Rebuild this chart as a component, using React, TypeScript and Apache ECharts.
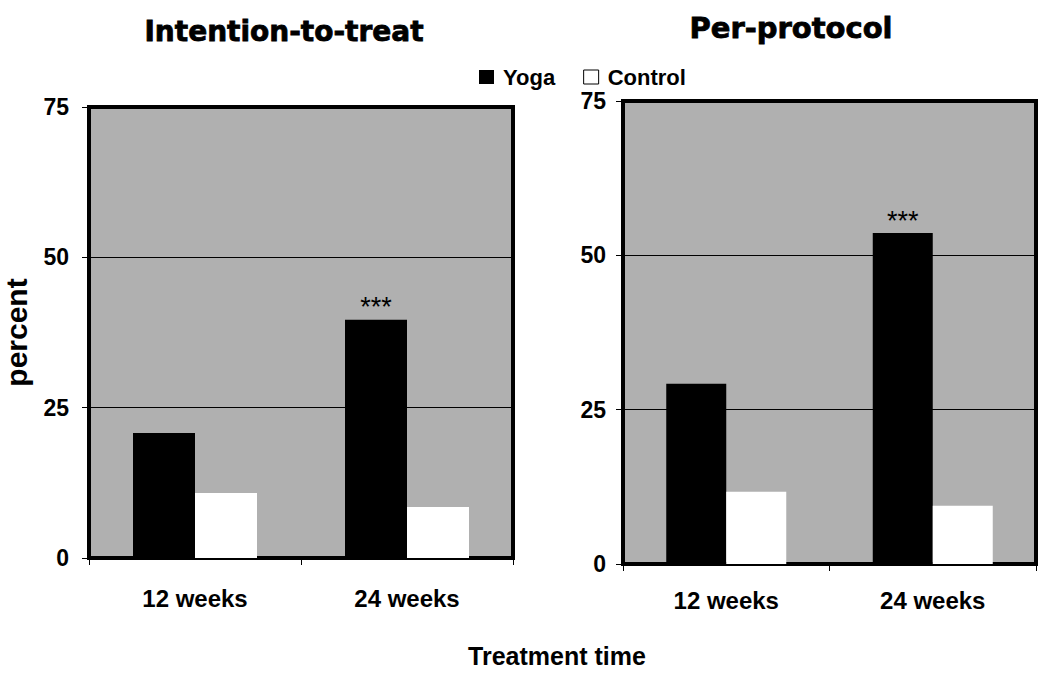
import React, { useEffect, useRef } from "react";
import * as echarts from "echarts";

const categories = ["12 weeks", "24 weeks"];
const ittYoga = [20.8, 39.6];
const ittControl = [10.8, 8.5];
const ppYoga = [29.2, 53.6];
const ppControl = [11.7, 9.45];
const ittMarks = ["", "***"];
const ppMarks = ["", "***"];
const panelTitles = ["Intention-to-treat", "Per-protocol"];
const seriesNames = ["Yoga", "Control"];
const yMin = 0;
const yMax = 75;
const yStep = 25;

const FONT = "'Liberation Sans', Arial, sans-serif";

function yogaData(values: number[], marks: string[]) {
  return values.map((v, i) =>
    marks[i]
      ? {
          value: v,
          label: {
            show: true,
            position: "top",
            distance: -1,
            formatter: marks[i],
            color: "#000",
            fontSize: 27,
            fontFamily: FONT,
          },
        }
      : v
  );
}

export default function App() {
  const ref = useRef<HTMLDivElement>(null);
  useEffect(() => {
    document.body.style.margin = "0";
    const chart = echarts.init(ref.current!, null, { renderer: "svg" });
    const grids = [
      { left: 86, top: 107, width: 427, height: 451 },
      { left: 623, top: 101, width: 413, height: 463 },
    ];
    const yAxisCommon = (gi: number, margin: number, withName: boolean) => ({
      type: "value",
      gridIndex: gi,
      min: yMin,
      max: yMax,
      interval: yStep,
      axisLine: { show: false },
      axisTick: { show: true, length: 7, lineStyle: { color: "#000", width: 1 } },
      axisLabel: {
        color: "#000",
        fontSize: 23,
        fontWeight: "bold",
        fontFamily: FONT,
        margin,
      },
      splitLine: { show: true, lineStyle: { color: "#000", width: 1 } },
      ...(withName
        ? {
            name: "percent",
            nameLocation: "middle",
            nameRotate: 90,
            nameGap: 58,
            nameTextStyle: {
              color: "#000",
              fontSize: 30,
              fontWeight: "bold",
              fontFamily: FONT,
            },
          }
        : {}),
    });
    const xAxisCommon = (gi: number, margin: number) => ({
      type: "category",
      gridIndex: gi,
      data: categories,
      axisLine: { show: false },
      axisTick: {
        show: true,
        length: 7,
        interval: 0,
        alignWithLabel: false,
        lineStyle: { color: "#000", width: 1 },
      },
      axisLabel: {
        color: "#000",
        fontSize: 24,
        fontWeight: "bold",
        fontFamily: FONT,
        margin,
        interval: 0,
      },
      splitLine: { show: false },
    });
    const barCommon = {
      type: "bar",
      barGap: "0%",
      barCategoryGap: "42%",
    };
    chart.setOption({
      animation: false,
      backgroundColor: "#fff",
      grid: grids.map((g) => ({
        ...g,
        show: true,
        backgroundColor: "#b0b0b0",
        borderColor: "#000",
        borderWidth: 4,
        containLabel: false,
      })),
      legend: {
        left: 474,
        top: 61,
        icon: "rect",
        itemWidth: 15,
        itemHeight: 14,
        itemGap: 28,
        textStyle: {
          color: "#000",
          fontSize: 22,
          fontWeight: "bold",
          fontFamily: FONT,
          padding: [0, 0, 0, 4],
        },
        data: [
          { name: seriesNames[0], itemStyle: { color: "#000" } },
          {
            name: seriesNames[1],
            itemStyle: { color: "#fff", borderColor: "#000", borderWidth: 1 },
          },
        ],
      },
      xAxis: [xAxisCommon(0, 28), xAxisCommon(1, 24)],
      yAxis: [yAxisCommon(0, 20, true), yAxisCommon(1, 17, false)],
      series: [
        {
          ...barCommon,
          name: seriesNames[0],
          xAxisIndex: 0,
          yAxisIndex: 0,
          barWidth: 62,
          itemStyle: { color: "#000" },
          data: yogaData(ittYoga, ittMarks),
        },
        {
          ...barCommon,
          name: seriesNames[1],
          xAxisIndex: 0,
          yAxisIndex: 0,
          barWidth: 62,
          itemStyle: { color: "#fff" },
          data: ittControl,
        },
        {
          ...barCommon,
          name: seriesNames[0],
          xAxisIndex: 1,
          yAxisIndex: 1,
          barWidth: 60,
          itemStyle: { color: "#000" },
          data: yogaData(ppYoga, ppMarks),
        },
        {
          ...barCommon,
          name: seriesNames[1],
          xAxisIndex: 1,
          yAxisIndex: 1,
          barWidth: 60,
          itemStyle: { color: "#fff" },
          data: ppControl,
        },
      ],
      graphic: [
        {
          type: "text",
          x: 284,
          y: 31,
          style: {
            text: panelTitles[0],
            align: "center",
            verticalAlign: "middle",
            fontSize: 28,
            fontWeight: "bold",
            fontFamily: "'DejaVu Sans', sans-serif",
            fill: "#000",
            stroke: "#000",
            lineWidth: 0.8,
          },
        },
        {
          type: "text",
          x: 791,
          y: 28,
          style: {
            text: panelTitles[1],
            align: "center",
            verticalAlign: "middle",
            fontSize: 29,
            fontWeight: "bold",
            fontFamily: "'DejaVu Sans', sans-serif",
            fill: "#000",
            stroke: "#000",
            lineWidth: 0.8,
          },
        },
        {
          type: "text",
          x: 557,
          y: 656,
          style: {
            text: "Treatment time",
            align: "center",
            verticalAlign: "middle",
            fontSize: 25,
            fontWeight: "bold",
            fontFamily: FONT,
            fill: "#000",
          },
        },
      ],
    });
    return () => chart.dispose();
  }, []);
  return <div ref={ref} style={{ width: 1050, height: 680 }} />;
}
